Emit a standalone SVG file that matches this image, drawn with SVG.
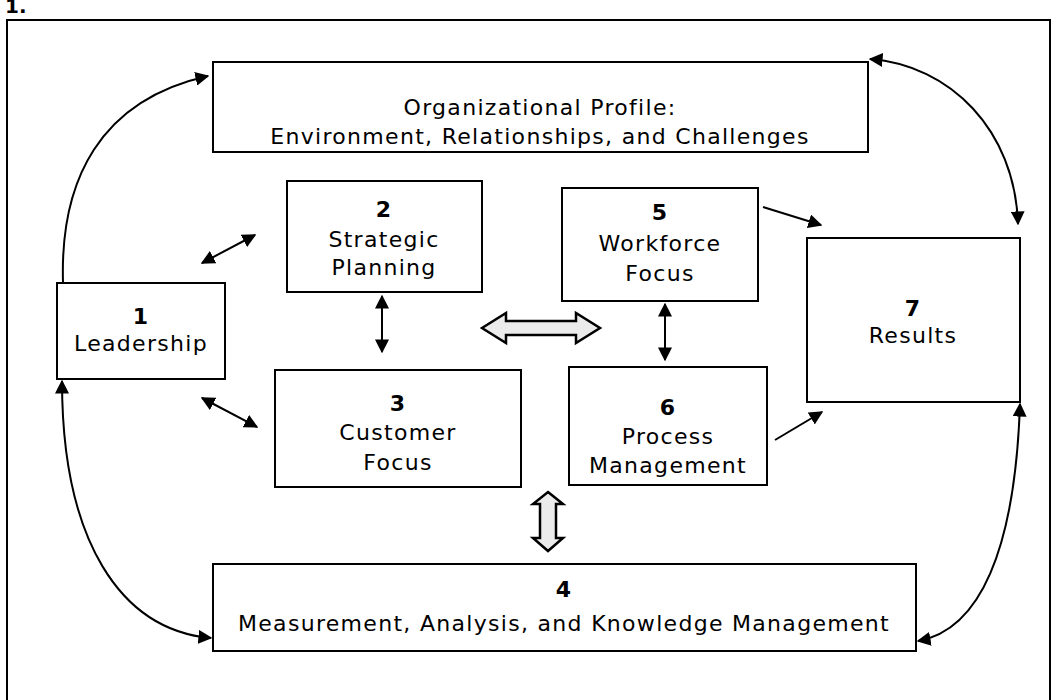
<svg xmlns="http://www.w3.org/2000/svg" width="1060" height="700" viewBox="0 0 1060 700">
<style>
.box{fill:#fff;stroke:#000;stroke-width:2}
.t{font-family:"DejaVu Sans",Verdana,sans-serif;font-size:22px;text-anchor:middle;fill:#000;letter-spacing:1.3px}
.n{font-weight:bold}
.c{fill:none;stroke:#000;stroke-width:2}
.h{fill:#ebebeb;stroke:#000;stroke-width:2.5;stroke-linejoin:miter}
</style>
<defs>
<marker id="b" viewBox="0 0 10 10" refX="9" refY="5" markerWidth="14" markerHeight="14" markerUnits="userSpaceOnUse" orient="auto-start-reverse">
<path d="M0,0 L10,5 L0,10 z" fill="#000"/>
</marker>
</defs>
<rect x="7" y="20" width="1043" height="720" fill="none" stroke="#000" stroke-width="2"/>
<text x="5" y="13" style="font-family:'DejaVu Sans',sans-serif;font-size:20px;font-weight:bold">1.</text>
<g id="profile">
<rect class="box" x="213" y="62" width="655" height="90"/>
<text class="t" x="540" y="115">Organizational Profile:</text>
<text class="t" x="540" y="144">Environment, Relationships, and Challenges</text>
</g>
<g id="n2">
<rect class="box" x="287" y="181" width="195" height="111"/>
<text class="t n" x="384" y="217">2</text>
<text class="t" x="384" y="247">Strategic</text>
<text class="t" x="384" y="275">Planning</text>
</g>
<g id="n5">
<rect class="box" x="562" y="188" width="196" height="113"/>
<text class="t n" x="660" y="220">5</text>
<text class="t" x="660" y="251">Workforce</text>
<text class="t" x="660" y="281">Focus</text>
</g>
<g id="n1">
<rect class="box" x="57" y="283" width="168" height="96"/>
<text class="t n" x="141" y="324">1</text>
<text class="t" x="141" y="351">Leadership</text>
</g>
<g id="n7">
<rect class="box" x="807" y="238" width="213" height="164"/>
<text class="t n" x="913" y="316">7</text>
<text class="t" x="913" y="343">Results</text>
</g>
<g id="n3">
<rect class="box" x="275" y="370" width="246" height="117"/>
<text class="t n" x="398" y="411">3</text>
<text class="t" x="398" y="440">Customer</text>
<text class="t" x="398" y="470">Focus</text>
</g>
<g id="n6">
<rect class="box" x="569" y="367" width="198" height="118"/>
<text class="t n" x="668" y="415">6</text>
<text class="t" x="668" y="444">Process</text>
<text class="t" x="668" y="473">Management</text>
</g>
<g id="n4">
<rect class="box" x="213" y="564" width="703" height="87"/>
<text class="t n" x="564" y="597">4</text>
<text class="t" x="564" y="631">Measurement, Analysis, and Knowledge Management</text>
</g>
<g id="connectors">
<path class="c" d="M63,282 C60,180 100,100 208,76" marker-end="url(#b)"/>
<path class="c" d="M62,381 C62,540 120,630 211,638" marker-start="url(#b)" marker-end="url(#b)"/>
<path class="c" d="M870,59 C950,65 1015,130 1018,224" marker-start="url(#b)" marker-end="url(#b)"/>
<path class="c" d="M1020,404 C1015,550 980,630 918,641" marker-start="url(#b)" marker-end="url(#b)"/>
<line class="c" x1="202" y1="263" x2="255" y2="235" marker-start="url(#b)" marker-end="url(#b)"/>
<line class="c" x1="202" y1="398" x2="257" y2="427" marker-start="url(#b)" marker-end="url(#b)"/>
<line class="c" x1="382" y1="296" x2="382" y2="352" marker-start="url(#b)" marker-end="url(#b)"/>
<line class="c" x1="665" y1="304" x2="665" y2="360" marker-start="url(#b)" marker-end="url(#b)"/>
<line class="c" x1="763" y1="207" x2="821" y2="225" marker-end="url(#b)"/>
<line class="c" x1="775" y1="440" x2="822" y2="412" marker-end="url(#b)"/>
<polygon class="h" points="482,328 506,313 506,321 576,321 576,313 600,328 576,343 576,335 506,335 506,343"/>
<polygon class="h" points="548,492 563,504 556,504 556,538 563,538 548,551 533,538 540,538 540,504 533,504"/>
</g>
</svg>
